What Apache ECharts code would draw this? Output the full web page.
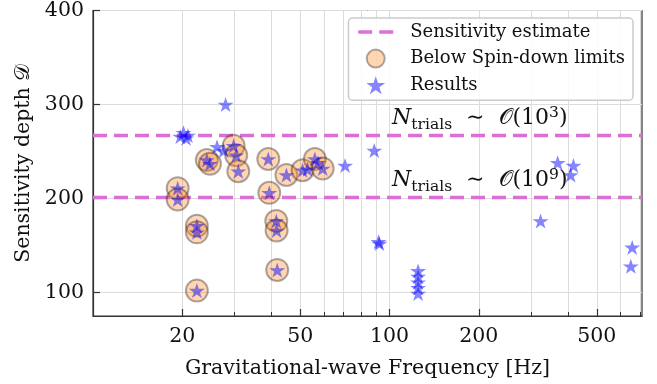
<!DOCTYPE html>
<html>
<head>
<meta charset="utf-8">
<script src="https://cdn.jsdelivr.net/npm/echarts@6/dist/echarts.min.js"></script>
<style>
  html, body { margin: 0; padding: 0; background: #fff; }
  #chart { width: 657px; height: 384px; }
</style>
</head>
<body>
<div id="chart"></div>
<script>
// data
var xMin = 10, xMax = 710;
var xMajorTicks = [20, 50, 100, 200, 500];
var xMinorTicks = [30, 40, 60, 70, 80, 90, 300, 400, 600, 700];
var yTicks = [100, 200, 300, 400];

// sensitivity estimate levels and their exponents (N_trials ~ O(10^k))
var thresholds = [267, 201];
var thresholdExp = ['3', '9'];
var noteFreq = [102, 102];

// every star (Results)
var resultFreq = [19.7, 20.2, 20.6, 20.9, 28.0, 26.2, 27.6, 52.9, 57.4, 70.8, 88.8, 91.8, 92.4,
  124.8, 124.8, 124.8, 124.8, 124.8, 323, 369, 417, 408, 658, 651,
  19.3, 19.3, 22.4, 22.4, 22.4, 24.2, 24.8, 29.8, 30.4, 30.9, 39.0, 39.3, 41.5, 41.6, 41.8,
  44.9, 50.9, 56.0, 59.5];
var resultDepth = [266, 270, 264, 267, 300, 255, 251, 231, 238, 235, 251, 154, 152,
  123, 117, 111, 105, 99, 176, 238, 235, 225, 148, 128,
  211, 199, 171, 164, 102, 241, 237, 256, 246, 229, 242, 206, 176, 166, 124,
  225, 230, 242, 232];

// stars that are below the spin-down limits (circled)
var spinFreq = [19.3, 19.3, 22.4, 22.4, 22.4, 24.2, 24.8, 29.8, 30.4, 30.9, 39.0, 39.3, 41.5, 41.6, 41.8,
  44.9, 50.9, 56.0, 59.5];
var spinDepth = [211, 199, 171, 164, 102, 241, 237, 256, 246, 229, 242, 206, 176, 166, 124,
  225, 230, 242, 232];

(function() {
  var font = 'DejaVu Serif';
  var starPath = 'path://M0,-10L2.245,-3.09L9.511,-3.09L3.633,1.18L5.878,8.09L0,3.82L-5.878,8.09L-3.633,1.18L-9.511,-3.09L-2.245,-3.09Z';
  var gridColor = '#dcdcdc';
  var frameColor = '#333';
  var dash = [14, 7];

  function pairs(xs, ys) {
    return xs.map(function(x, i) { return [x, ys[i]]; });
  }

  // 1. instance
  var myChart = echarts.init(document.querySelector('#chart'), null, { renderer: 'canvas' });

  var series = [];
  thresholds.forEach(function(t) {
    series.push({
      name: 'Sensitivity estimate',
      type: 'line',
      data: [[xMin, t], [xMax, t]],
      showSymbol: false,
      symbol: 'none',
      silent: true,
      lineStyle: { color: '#DA70D6', width: 3.5, type: dash },
      itemStyle: { color: '#DA70D6' },
      z: 2
    });
  });
  series.push({
    name: 'Below Spin-down limits',
    type: 'scatter',
    data: pairs(spinFreq, spinDepth),
    symbol: 'circle',
    symbolSize: 22,
    itemStyle: { color: 'rgba(255,127,14,0.4)', borderColor: 'rgba(0,0,0,0.4)', borderWidth: 2 },
    z: 3
  });
  series.push({
    name: 'Results',
    type: 'scatter',
    data: pairs(resultFreq, resultDepth),
    symbol: starPath,
    symbolSize: [16, 15],
    itemStyle: { color: 'rgba(0,0,255,0.6)' },
    z: 4
  });

  // 2. options
  option = {
    animation: false,
    backgroundColor: '#fff',
    textStyle: { fontFamily: font },
    grid: {
      left: 93, right: 15, top: 9, bottom: 67,
      show: true, borderColor: frameColor, borderWidth: 1.2, backgroundColor: 'transparent'
    },
    legend: {
      orient: 'vertical',
      right: 24,
      top: 18,
      padding: [5, 8, 6, 8],
      itemWidth: 35,
      itemHeight: 18,
      itemGap: 7.6,
      borderColor: '#cccccc',
      borderWidth: 1.5,
      borderRadius: 4,
      backgroundColor: 'rgba(255,255,255,0.85)',
      textStyle: { fontFamily: font, fontSize: 18, color: '#111', padding: [0, 0, 0, 12] },
      data: [
        { name: 'Sensitivity estimate', itemStyle: { opacity: 0 }, lineStyle: { color: '#DA70D6', width: 3.5, type: dash } },
        { name: 'Below Spin-down limits', icon: 'circle' },
        { name: 'Results', icon: starPath }
      ]
    },
    xAxis: [
      {
        type: 'log', logBase: 10, min: xMin, max: xMax, position: 'bottom',
        name: 'Gravitational-wave Frequency [Hz]', nameLocation: 'middle', nameGap: 42,
        nameTextStyle: { fontFamily: font, fontSize: 20.5, color: '#111' },
        axisLine: { show: true, lineStyle: { color: frameColor, width: 1.2 } },
        axisTick: { inside: true, length: 7, customValues: xMajorTicks, lineStyle: { color: frameColor, width: 1.2 } },
        axisLabel: { customValues: xMajorTicks, margin: 10, fontFamily: font, fontSize: 20.5, color: '#111' },
        splitLine: { show: true, lineStyle: { color: gridColor, width: 1 } }
      },
      {
        type: 'log', logBase: 10, min: xMin, max: xMax, position: 'bottom',
        axisLine: { show: false },
        axisTick: { inside: true, length: 4, customValues: xMinorTicks, lineStyle: { color: frameColor, width: 1 } },
        axisLabel: { show: false },
        splitLine: { show: true, lineStyle: { color: gridColor, width: 1 } }
      }
    ],
    yAxis: {
      type: 'value', min: 75, max: 400,
      name: 'Sensitivity depth 𝒟', nameLocation: 'middle', nameGap: 57,
      nameTextStyle: { fontFamily: font, fontSize: 20.5, color: '#111' },
      axisLine: { show: true, lineStyle: { color: frameColor, width: 1.2 } },
      axisTick: { inside: true, length: 7, customValues: yTicks, lineStyle: { color: frameColor, width: 1.2 } },
      axisLabel: { customValues: yTicks, margin: 9, fontFamily: font, fontSize: 20.5, color: '#111' },
      splitLine: { show: true, lineStyle: { color: gridColor, width: 1 } }
    },
    series: series
  };

  // 3. set option
  myChart.setOption(option);

  // 4. N_trials notes above each dashed line
  var notes = thresholds.map(function(t, i) {
    var p = myChart.convertToPixel({ xAxisIndex: 0, yAxisIndex: 0 }, [noteFreq[i], t]);
    return {
      type: 'text',
      x: p[0],
      y: p[1] - 3,
      z: 10,
      style: {
        text: '{n|N}{s|trials}{m|  ∼  }{o|𝒪}{m|(10}{p|' + thresholdExp[i] + '}{m|)}',
        textVerticalAlign: 'bottom',
        verticalAlign: 'bottom',
        fill: '#111',
        rich: {
          n: { fontFamily: font, fontStyle: 'italic', fontSize: 22, lineHeight: 28 },
          s: { fontFamily: font, fontSize: 15.5, lineHeight: 16, verticalAlign: 'bottom' },
          m: { fontFamily: font, fontSize: 22, lineHeight: 28 },
          o: { fontFamily: font, fontSize: 22, lineHeight: 28 },
          p: { fontFamily: font, fontSize: 15.5, lineHeight: 16, verticalAlign: 'top' }
        }
      }
    };
  });
  myChart.setOption({ graphic: notes });
})();
</script>
</body>
</html>
